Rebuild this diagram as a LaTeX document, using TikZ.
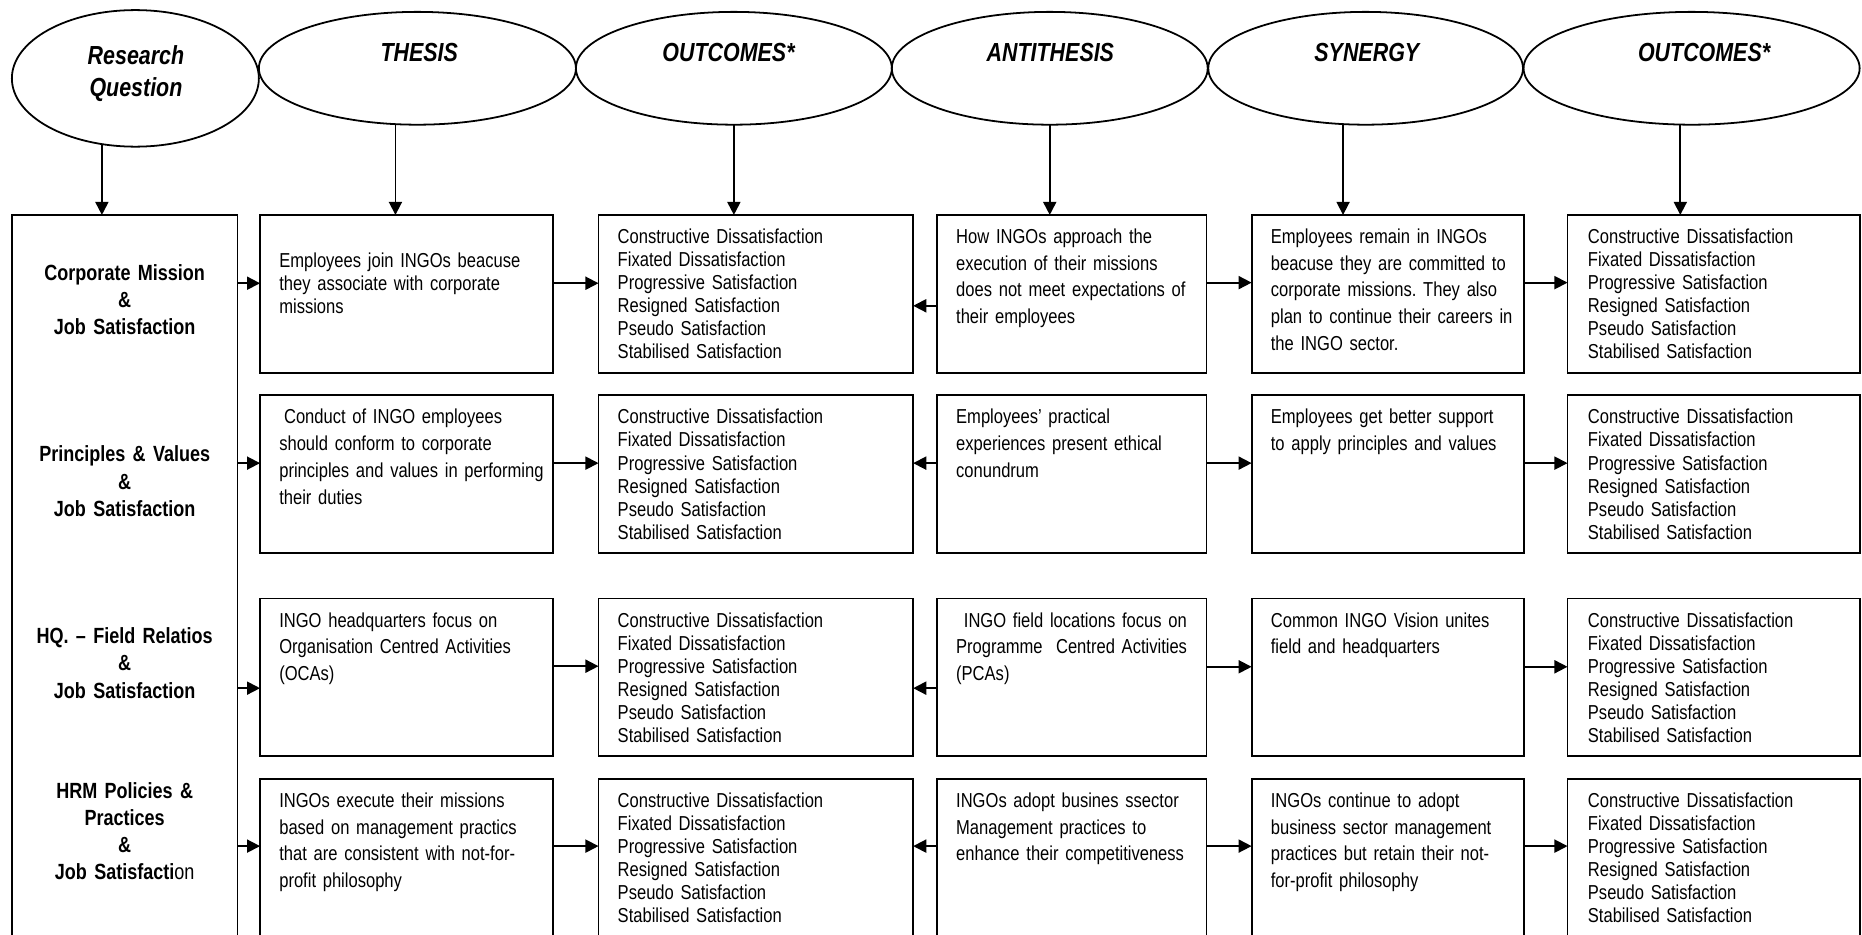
\documentclass[tikz,border=0pt]{standalone}
\usepackage{fontspec}
\setmainfont{Liberation Sans}[FakeStretch=0.82]
\usetikzlibrary{shapes.geometric,arrows.meta}
\frenchspacing
\begin{document}
\begin{tikzpicture}[x=1pt,y=-1pt,
  box/.style={draw, line width=1.6pt, rectangle, inner sep=0pt, outer sep=0pt, anchor=north west},
  oval/.style={draw, line width=1.5pt, ellipse, inner sep=0pt, outer sep=0pt},
  hdr/.style={font=\fontsize{22}{26.5}\selectfont\bfseries\itshape, anchor=base, align=center, text width=200pt, inner sep=0pt},
  side/.style={font=\fontsize{18.5}{23}\selectfont\bfseries, anchor=base, align=center, text width=190pt, inner sep=0pt},
  para/.style={font=\fontsize{17}{22.5}\selectfont, anchor=base west, align=left, text width=300pt, inner sep=0pt},
  lst/.style={font=\fontsize{17}{19.4}\selectfont, anchor=base west, align=left, text width=300pt, inner sep=0pt},
  arr/.style={line width=1.5pt, -{Triangle[length=11pt,width=11pt]}},
]
\useasboundingbox (0,0) rectangle (1568,787);
\clip (0,0) rectangle (1568,787);
\fill[white] (0,0) rectangle (1568,787);

% ellipses
\node[oval, minimum width=208pt, minimum height=115pt] (rq) at (114,66) {};
\node[oval, minimum width=267pt, minimum height=95pt] (thesis) at (351.5,57.5) {};
\node[oval, minimum width=266pt, minimum height=95pt] (outA) at (618,57.5) {};
\node[oval, minimum width=266pt, minimum height=95pt] (anti) at (884,57.5) {};
\node[oval, minimum width=265pt, minimum height=95pt] (syn) at (1150,57.5) {};
\node[oval, minimum width=283pt, minimum height=95pt] (outB) at (1424.5,57.5) {};

\node[hdr] (rqT) at (114.5,54.5) {Research\\Question};
\node[hdr] (thesisT) at (353,52) {THESIS};
\node[hdr] (outAT) at (613.5,52) {OUTCOMES*};
\node[hdr] (antiT) at (884.5,52) {ANTITHESIS};
\node[hdr] (synT) at (1151,52) {SYNERGY};
\node[hdr] (outBT) at (1435,52) {OUTCOMES*};

% boxes
\node[box, minimum width=190pt, minimum height=620pt] (lbox) at (10,181) {};
\foreach \r/\y in {1/181,2/333,3/504,4/656}{
  \foreach \c/\x/\w in {1/219/247,2/504/265,3/789/227,4/1054/229,5/1320/246}{
    \node[box, minimum width=\w pt, minimum height=133pt] (b\r\c) at (\x,\y) {};
  }
}

% left column
\node[side] (s1) at (105,236) {Corporate Mission\\\&\\Job Satisfaction};
\node[side] (s2) at (105,389) {Principles \& Values\\\&\\Job Satisfaction};
\node[side] (s3) at (105,542) {HQ. – Field Relatios\\\&\\Job Satisfaction};
\node[side] (s4) at (105,672) {HRM Policies \&\\Practices\\\&\\Job Satisfacti{\mdseries on}};

% row 1
\node[lst] (t11) at (235,225) {Employees join INGOs beacuse\\they associate with corporate\\missions};
\node[lst] (t12) at (520,205) {Constructive Dissatisfaction\\Fixated Dissatisfaction\\Progressive Satisfaction\\Resigned Satisfaction\\Pseudo Satisfaction\\Stabilised Satisfaction};
\node[para] (t13) at (805,205) {How INGOs approach the\\execution of their missions\\does not meet expectations of\\their employees};
\node[para] (t14) at (1070,205) {Employees remain in INGOs\\beacuse they are committed to\\corporate missions. They also\\plan to continue their careers in\\the INGO sector.};
\node[lst] (t15) at (1337,205) {Constructive Dissatisfaction\\Fixated Dissatisfaction\\Progressive Satisfaction\\Resigned Satisfaction\\Pseudo Satisfaction\\Stabilised Satisfaction};

% row 2
\node[para] (t21) at (235,357) {\hspace*{4pt}Conduct of INGO employees\\should conform to corporate\\principles and values in performing\\their duties};
\node[lst] (t22) at (520,357) {Constructive Dissatisfaction\\Fixated Dissatisfaction\\Progressive Satisfaction\\Resigned Satisfaction\\Pseudo Satisfaction\\Stabilised Satisfaction};
\node[para] (t23) at (805,357) {Employees’ practical\\experiences present ethical\\conundrum};
\node[para] (t24) at (1070,357) {Employees get better support\\to apply principles and values};
\node[lst] (t25) at (1337,357) {Constructive Dissatisfaction\\Fixated Dissatisfaction\\Progressive Satisfaction\\Resigned Satisfaction\\Pseudo Satisfaction\\Stabilised Satisfaction};

% row 3
\node[para] (t31) at (235,528) {INGO headquarters focus on\\Organisation Centred Activities\\(OCAs)};
\node[lst] (t32) at (520,528) {Constructive Dissatisfaction\\Fixated Dissatisfaction\\Progressive Satisfaction\\Resigned Satisfaction\\Pseudo Satisfaction\\Stabilised Satisfaction};
\node[para] (t33) at (805,528) {\hspace*{6.5pt}INGO field locations focus on\\Programme\ \ Centred Activities\\(PCAs)};
\node[para] (t34) at (1070,528) {Common INGO Vision unites\\field and headquarters};
\node[lst] (t35) at (1337,528) {Constructive Dissatisfaction\\Fixated Dissatisfaction\\Progressive Satisfaction\\Resigned Satisfaction\\Pseudo Satisfaction\\Stabilised Satisfaction};

% row 4
\node[para] (t41) at (235,680) {INGOs execute their missions\\based on management practics\\that are consistent with not-for-\\profit philosophy};
\node[lst] (t42) at (520,680) {Constructive Dissatisfaction\\Fixated Dissatisfaction\\Progressive Satisfaction\\Resigned Satisfaction\\Pseudo Satisfaction\\Stabilised Satisfaction};
\node[para] (t43) at (805,680) {INGOs adopt busines ssector\\Management practices to\\enhance their competitiveness};
\node[para] (t44) at (1070,680) {INGOs continue to adopt\\business sector management\\practices but retain their not-\\for-profit philosophy};
\node[lst] (t45) at (1337,680) {Constructive Dissatisfaction\\Fixated Dissatisfaction\\Progressive Satisfaction\\Resigned Satisfaction\\Pseudo Satisfaction\\Stabilised Satisfaction};

% vertical arrows
\draw[arr] (rq.243) -- (rq.243 |- lbox.north);
\draw[arr] ([xshift=-18.5pt]thesis.south) -- ([xshift=-18.5pt]thesis.south |- b11.north);
\draw[arr] (outA.south) -- (outA.south |- b12.north);
\draw[arr] (anti.south) -- (anti.south |- b13.north);
\draw[arr] ([xshift=-19pt]syn.south) -- ([xshift=-19pt]syn.south |- b14.north);
\draw[arr] ([xshift=-9.5pt]outB.south) -- ([xshift=-9.5pt]outB.south |- b15.north);

% row 1 arrows
\draw[arr] ([yshift=9pt]b11.west -| lbox.east) -- ([yshift=9pt]b11.west);
\draw[arr] ([yshift=9pt]b11.east) -- ([yshift=9pt]b11.east -| b12.west);
\draw[arr] ([yshift=-10pt]b13.west) -- ([yshift=-10pt]b13.west -| b12.east);
\draw[arr] ([yshift=9.5pt]b13.east) -- ([yshift=9.5pt]b13.east -| b14.west);
\draw[arr] ([yshift=9.5pt]b14.east) -- ([yshift=9.5pt]b14.east -| b15.west);
% row 2 arrows
\draw[arr] ([yshift=9.5pt]b21.west -| lbox.east) -- ([yshift=9.5pt]b21.west);
\draw[arr] ([yshift=9.5pt]b21.east) -- ([yshift=9.5pt]b21.east -| b22.west);
\draw[arr] ([yshift=9.5pt]b23.west) -- ([yshift=9.5pt]b23.west -| b22.east);
\draw[arr] ([yshift=9.5pt]b23.east) -- ([yshift=9.5pt]b23.east -| b24.west);
\draw[arr] ([yshift=9.5pt]b24.east) -- ([yshift=9.5pt]b24.east -| b25.west);
% row 3 arrows
\draw[arr] ([yshift=-9pt]b31.west -| lbox.east) -- ([yshift=-9pt]b31.west);
\draw[arr] ([yshift=9.5pt]b31.east) -- ([yshift=9.5pt]b31.east -| b32.west);
\draw[arr] ([yshift=-9pt]b33.west) -- ([yshift=-9pt]b33.west -| b32.east);
\draw[arr] ([yshift=9pt]b33.east) -- ([yshift=9pt]b33.east -| b34.west);
\draw[arr] ([yshift=9pt]b34.east) -- ([yshift=9pt]b34.east -| b35.west);
% row 4 arrows
\draw[arr] ([yshift=10pt]b41.west -| lbox.east) -- ([yshift=10pt]b41.west);
\draw[arr] ([yshift=10pt]b41.east) -- ([yshift=10pt]b41.east -| b42.west);
\draw[arr] ([yshift=10pt]b43.west) -- ([yshift=10pt]b43.west -| b42.east);
\draw[arr] ([yshift=10pt]b43.east) -- ([yshift=10pt]b43.east -| b44.west);
\draw[arr] ([yshift=10pt]b44.east) -- ([yshift=10pt]b44.east -| b45.west);
\end{tikzpicture}
\end{document}
